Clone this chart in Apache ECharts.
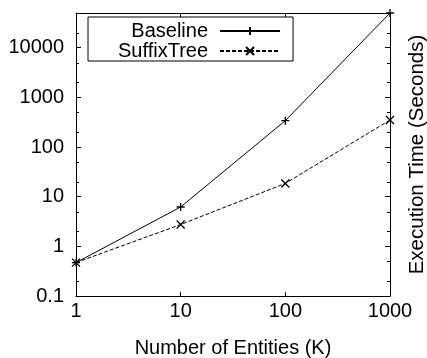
<!DOCTYPE html>
<html>
<head>
<meta charset="utf-8">
<script src="https://cdn.jsdelivr.net/npm/echarts@6/dist/echarts.min.js"></script>
<style>
html,body{margin:0;padding:0;background:#fff;}
#c{width:427px;height:358px;}
</style>
</head>
<body>
<div id="c"></div>
<script>
// ---- data ----
const entities = [1, 10, 100, 1000];
const baseline = [0.47, 6.2, 340, 50000];
const suffixTree = [0.47, 2.75, 18.5, 350];
const yTickLabels = ['0.1', '1', '10', '100', '1000', '10000'];
const xTickLabels = ['1', '10', '100', '1000'];
const yMinorTicks = [0.2, 0.5, 2, 5, 20, 50, 200, 500, 2000, 5000, 20000];
const seriesNames = ['Baseline', 'SuffixTree'];

const FONT = "'Liberation Sans', Arial, sans-serif";
const plusPath = 'path://M5,0L5,10M0,5L10,5';
const crossPath = 'path://M0,0L10,10M10,0L0,10';

function fmtY(v) {
  const l = Math.log10(v);
  if (Math.abs(l - Math.round(l)) > 1e-6) return '';
  const idx = Math.round(l) + 1;
  return yTickLabels[idx] !== undefined ? yTickLabels[idx] : '';
}
function fmtX(v) {
  const l = Math.log10(v);
  if (Math.abs(l - Math.round(l)) > 1e-6) return '';
  const idx = Math.round(l);
  return xTickLabels[idx] !== undefined ? xTickLabels[idx] : '';
}

const chart = echarts.init(document.getElementById('c'), null, {renderer: 'canvas'});
const axisLine = {show: true, onZero: false, lineStyle: {color: '#000', width: 1}};
const option = {
  animation: false,
  backgroundColor: '#fff',
  grid: {left: 76, right: 37, top: 13, bottom: 62, containLabel: false, outerBoundsMode: 'none'},
  legend: {
    left: 88, top: 17,
    orient: 'vertical',
    align: 'right',
    itemWidth: 60, itemHeight: 10, itemGap: 0,
    padding: [4, 12, 0, 30],
    borderColor: '#000', borderWidth: 1,
    textStyle: {fontFamily: FONT, fontSize: 20, color: '#000', lineHeight: 19, padding: [0, 7, 0, 0]},
    data: seriesNames
  },
  xAxis: [{
    type: 'log', logBase: 10, min: 1, max: 1000, position: 'bottom',
    axisLine: axisLine,
    axisTick: {show: true, inside: true, length: 4, lineStyle: {color: '#000'}},
    axisLabel: {fontFamily: FONT, fontSize: 20, color: '#000', margin: 5, formatter: fmtX},
    splitLine: {show: false},
    name: 'Number of Entities (K)', nameLocation: 'middle', nameGap: 42,
    nameTextStyle: {fontFamily: FONT, fontSize: 20, color: '#000'}
  }, {
    type: 'log', logBase: 10, min: 1, max: 1000, position: 'top',
    axisLine: axisLine,
    axisTick: {show: true, inside: true, length: 4, lineStyle: {color: '#000'}},
    axisLabel: {show: false},
    splitLine: {show: false}
  }],
  yAxis: [{
    type: 'log', logBase: 10, min: 0.1, max: 50000, position: 'left',
    axisLine: axisLine,
    axisTick: {show: true, inside: true, length: 5, lineStyle: {color: '#000'}},
    axisLabel: {fontFamily: FONT, fontSize: 20, color: '#000', margin: 12, formatter: fmtY},
    splitLine: {show: false}
  }, {
    type: 'log', logBase: 10, min: 0.1, max: 50000, position: 'right',
    axisLine: axisLine,
    axisTick: {show: true, inside: true, length: 5, lineStyle: {color: '#000'}},
    axisLabel: {show: false},
    splitLine: {show: false},
    name: 'Execution Time (Seconds)', nameLocation: 'middle', nameGap: 17, nameRotate: 90,
    nameTextStyle: {fontFamily: FONT, fontSize: 20.5, color: '#000'}
  }],
  series: [{
    name: seriesNames[0], type: 'line',
    data: entities.map((x, i) => [x, baseline[i]]),
    symbol: plusPath, symbolSize: 8,
    lineStyle: {color: '#000', width: 1, type: 'solid'},
    itemStyle: {color: '#000', borderColor: '#000', borderWidth: 1.3},
    emphasis: {disabled: true}
  }, {
    name: seriesNames[1], type: 'line',
    data: entities.map((x, i) => [x, suffixTree[i]]),
    symbol: crossPath, symbolSize: 8,
    lineStyle: {color: '#000', width: 1, type: [4, 2]},
    itemStyle: {color: '#000', borderColor: '#000', borderWidth: 1.3},
    emphasis: {disabled: true}
  }]
};
chart.setOption(option);

// minor ticks (2 and 5 per decade) on both y axes, positioned via the axis scale
const g = [];
const x0 = chart.convertToPixel({xAxisIndex: 0}, 1);
const x1 = chart.convertToPixel({xAxisIndex: 0}, 1000);
yMinorTicks.forEach(v => {
  const y = Math.round(chart.convertToPixel({yAxisIndex: 0}, v)) + 0.5;
  g.push({type: 'line', shape: {x1: x0, y1: y, x2: x0 + 3, y2: y}, style: {stroke: '#000', lineWidth: 1}, silent: true});
  g.push({type: 'line', shape: {x1: x1 - 3, y1: y, x2: x1, y2: y}, style: {stroke: '#000', lineWidth: 1}, silent: true});
});
chart.setOption({graphic: g});
</script>
</body>
</html>
